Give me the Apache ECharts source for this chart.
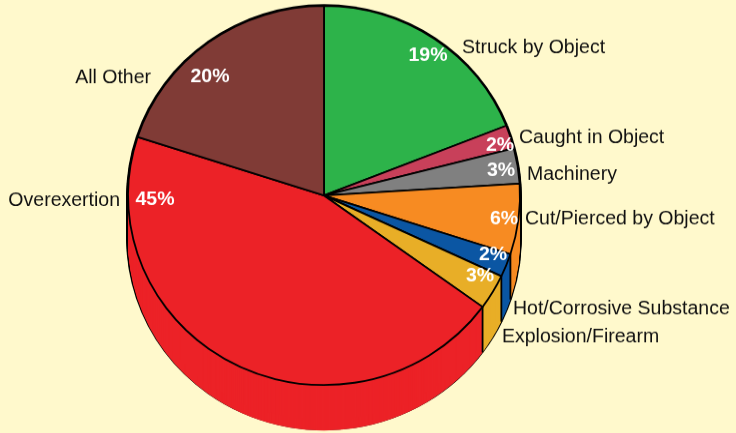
<!DOCTYPE html>
<html>
<head>
<meta charset="utf-8">
<script src="https://cdn.jsdelivr.net/npm/echarts@6/dist/echarts.min.js"></script>
<style>
  html, body { margin: 0; padding: 0; background: #FFF9CC; overflow: hidden; width: 736px; height: 433px; }
  #chart { position: absolute; left: 0; top: 0; width: 736px; height: 448px; transform-origin: 0 0; }
</style>
</head>
<body>
<div id="chart"></div>
<script>
// injury categories, clockwise from 12 o'clock
const categories = [
  'Struck by Object', 'Caught in Object', 'Machinery', 'Cut/Pierced by Object',
  'Hot/Corrosive Substance', 'Explosion/Firearm', 'Overexertion', 'All Other'
]
const percents = [19, 2, 3, 6, 2, 3, 45, 20]
const colors = ['#2DB34A', '#C8405A', '#808080', '#F78B22', '#0B56A3', '#E8AE27', '#EC2227', '#803B36']

// the pie is a slightly flattened ellipse: draw a circle and squash the chart vertically
const SY = 0.967
const CX = 324
const CY = 195.5 / SY
const R = 196
const DEPTH = Math.round(45 / SY)

// label anchors (screen px)
const nameLabels = [
  { x: 462, y: 48, align: 'left' },
  { x: 519, y: 138, align: 'left' },
  { x: 527, y: 175, align: 'left' },
  { x: 525, y: 219, align: 'left' },
  { x: 513, y: 309, align: 'left' },
  { x: 502, y: 337, align: 'left' },
  { x: 120, y: 201, align: 'right' },
  { x: 151, y: 78, align: 'right' },
]
const pctLabels = [
  [428, 56], [500, 146], [501, 171], [504, 219],
  [493, 255], [480, 276], [155, 200], [210, 77],
]

const FONT = 'Liberation Sans, Arial, Helvetica, sans-serif'

function pieData(colorFn) {
  return categories.map((name, i) => ({ name, value: percents[i], itemStyle: { color: colorFn(i) } }))
}

function basePie(cy, radius, z) {
  return {
    type: 'pie',
    z: z,
    center: [CX, cy],
    radius: radius,
    startAngle: 90,
    clockwise: true,
    silent: true,
    animation: false,
    avoidLabelOverlap: false,
    emphasis: { disabled: true },
    label: { show: false },
    labelLine: { show: false },
  }
}

const series = []

// black discs -> outline of the whole solid
for (let k = 0; k <= DEPTH; k += 3) {
  series.push({ ...basePie(CY + k, R + 1.8, 1), data: pieData(() => '#000') })
}

// side of the pie, drawn bottom up, one px at a time
for (let k = DEPTH; k >= 1; k--) {
  series.push({ ...basePie(CY + k, R, 2), itemStyle: { borderWidth: 0 }, data: pieData(i => colors[i]) })
}

// vertical edges on the visible side where slices meet
const boundaries = []
let cum = 0
percents.forEach(p => {
  cum += p
  const a = (90 - cum * 3.6) * Math.PI / 180
  if (Math.sin(a) < 0 && cum < 100) boundaries.push([cum])
})
series.push({
  type: 'custom',
  coordinateSystem: 'none',
  z: 3,
  silent: true,
  animation: false,
  data: boundaries,
  renderItem: (params, api) => {
    const a = (90 - api.value(0) * 3.6) * Math.PI / 180
    const x = CX + R * Math.cos(a)
    const y = CY - R * Math.sin(a)
    return {
      type: 'line',
      shape: { x1: x, y1: y, x2: x, y2: y + DEPTH },
      style: { stroke: '#000', lineWidth: 1.8 },
    }
  },
})

// top face with category names
series.push({
  ...basePie(CY, R, 4),
  itemStyle: { borderColor: '#000', borderWidth: 1.8 },
  data: pieData(i => colors[i]),
  label: {
    show: true,
    position: 'outside',
    formatter: '{b}',
    color: '#111',
    fontSize: 19.5,
    fontFamily: FONT,
  },
  labelLayout: (p) => {
    const l = nameLabels[p.dataIndex]
    return { x: l.x, y: l.y / SY, align: l.align, verticalAlign: 'middle', hideOverlap: false }
  },
})

// percentage labels
series.push({
  ...basePie(CY, R, 5),
  itemStyle: { color: 'rgba(0,0,0,0)', borderWidth: 0 },
  data: categories.map((name, i) => ({ name, value: percents[i] })),
  label: {
    show: true,
    position: 'inside',
    formatter: '{c}%',
    color: '#fff',
    fontWeight: 'bold',
    fontSize: 19.5,
    fontFamily: FONT,
  },
  labelLayout: (p) => {
    const l = pctLabels[p.dataIndex]
    return { x: l[0], y: l[1] / SY, align: 'center', verticalAlign: 'middle', hideOverlap: false }
  },
})

const el = document.getElementById('chart')
el.style.transform = 'scaleY(' + SY + ')'
const chart = echarts.init(el, null, { renderer: 'canvas' })
chart.setOption({
  backgroundColor: '#FFF9CC',
  animation: false,
  series,
})
</script>
</body>
</html>
